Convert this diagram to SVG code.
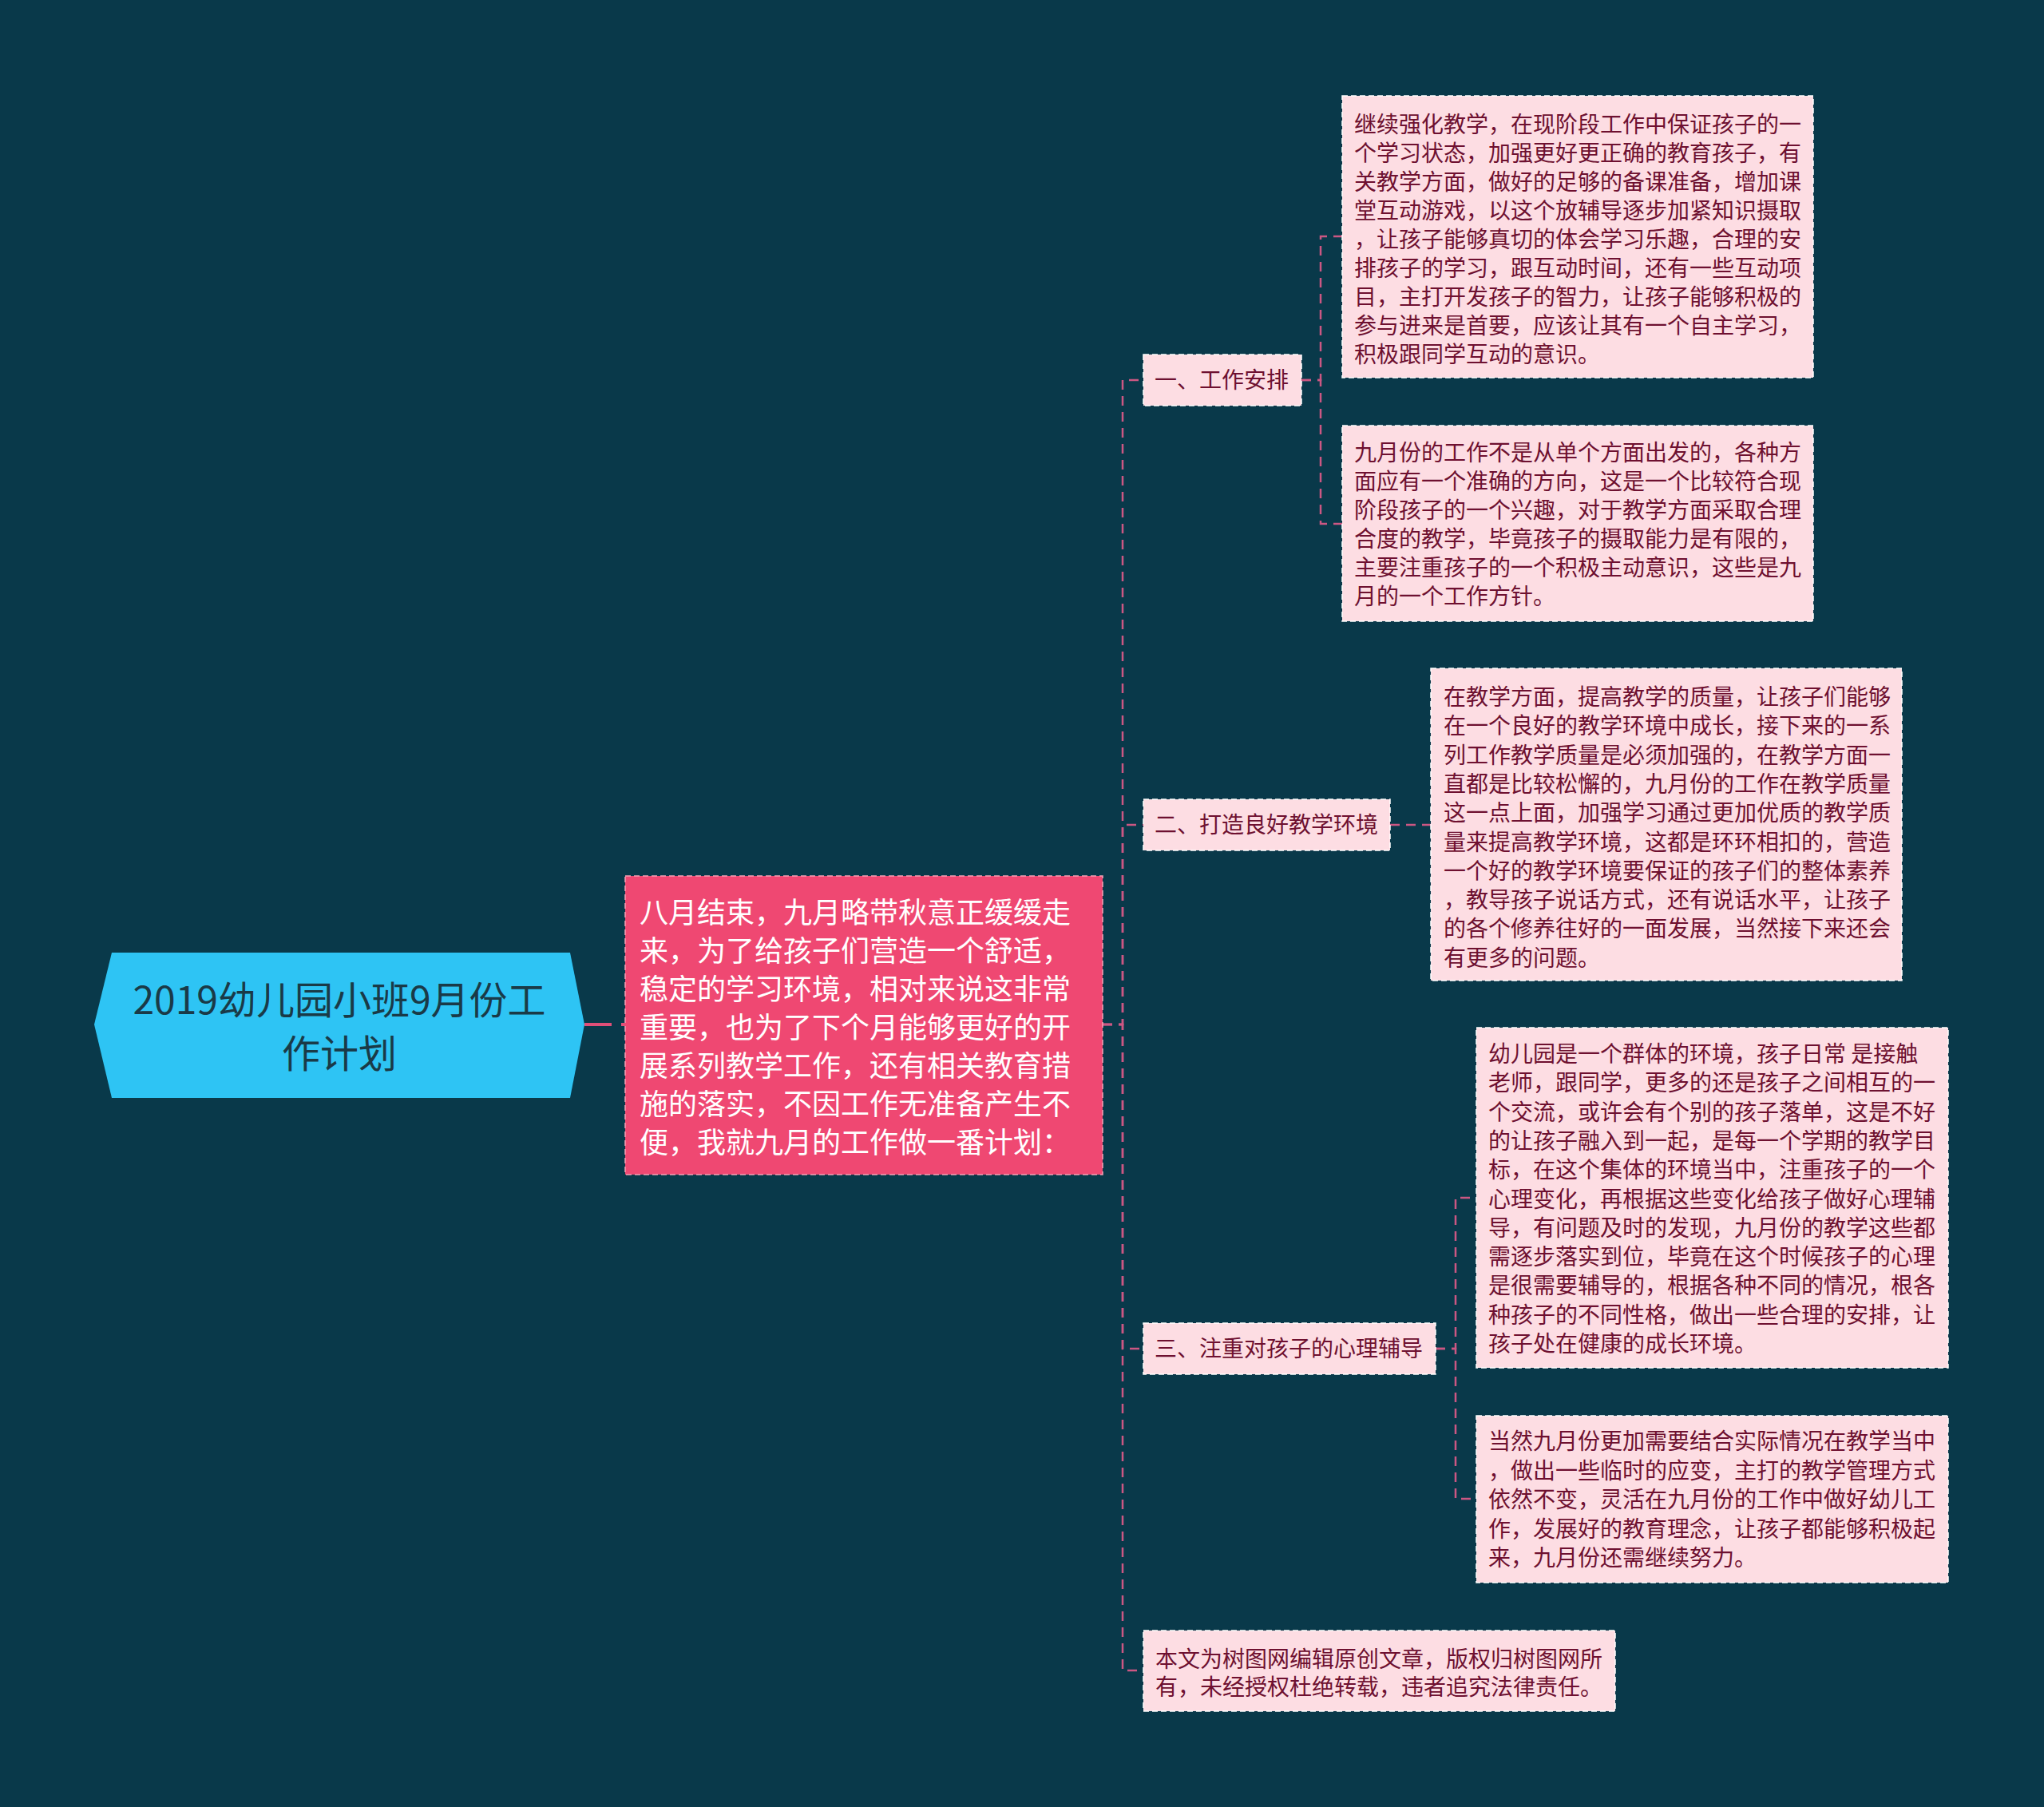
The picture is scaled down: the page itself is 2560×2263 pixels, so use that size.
<svg xmlns="http://www.w3.org/2000/svg" width="2560" height="2263" viewBox="0 0 2560 2263">
<style>
.bg{fill:#09394a}
.edge{fill:none;stroke:#cc5783;stroke-width:2.5;stroke-dasharray:12 8}
.edge0{fill:none;stroke:#e04f78;stroke-width:4;stroke-dasharray:34 12}
.box{fill:#fddde3;stroke:#ffffff;stroke-width:1.5;stroke-dasharray:7 4}
.t{font-family:"Noto Sans CJK SC","Noto Sans",sans-serif;font-size:28px;fill:#6e1030}
.tm{font-family:"Noto Sans CJK SC","Noto Sans",sans-serif;font-size:36px;fill:#ffffff}
.tr{font-family:"Noto Sans CJK SC","Noto Sans",sans-serif;font-size:48px;fill:#1a3a47;text-anchor:middle}
</style>
<rect class="bg" x="0" y="0" width="2560" height="2263"/>
<g id="connectors">
<path class="edge0" d="M732,1283 H783"/>
<path class="edge" d="M1381,1283 H1406 V476 H1432"/>
<path class="edge" d="M1381,1283 H1406 V1033 H1432"/>
<path class="edge" d="M1381,1283 H1406 V1689 H1432"/>
<path class="edge" d="M1381,1283 H1406 V2092 H1432"/>
<path class="edge" d="M1630,476 H1654 V296 H1681"/>
<path class="edge" d="M1630,476 H1654 V656 H1681"/>
<path class="edge" d="M1741,1033 H1792"/>
<path class="edge" d="M1798,1689 H1823 V1500 H1849"/>
<path class="edge" d="M1798,1689 H1823 V1877 H1849"/>
</g>
<g id="root">
<polygon points="140,1193 714,1193 732,1283 714,1375 140,1375 118,1283" fill="#2ec4f4"/>
<text class="tr" x="425" y="1270">2019幼儿园小班9月份工</text>
<text class="tr" x="425" y="1337">作计划</text>
</g>
<g id="main">
<rect x="783" y="1097" width="598" height="374" fill="#ef4872" stroke="#f7a0b5" stroke-width="1.5" stroke-dasharray="7 4"/>
<text class="tm"><tspan x="801" y="1156">八月结束，九月略带秋意正缓缓走</tspan><tspan x="801" y="1204">来，为了给孩子们营造一个舒适，</tspan><tspan x="801" y="1252">稳定的学习环境，相对来说这非常</tspan><tspan x="801" y="1300">重要，也为了下个月能够更好的开</tspan><tspan x="801" y="1348">展系列教学工作，还有相关教育措</tspan><tspan x="801" y="1396">施的落实，不因工作无准备产生不</tspan><tspan x="801" y="1444">便，我就九月的工作做一番计划：</tspan></text>
</g>
<g id="n1">
<rect class="box" x="1432" y="444" width="198" height="64"/>
<text class="t" x="1446" y="486">一、工作安排</text>
</g>
<g id="n1a">
<rect class="box" x="1681" y="120" width="590" height="353"/>
<text class="t"><tspan x="1696" y="166">继续强化教学，在现阶段工作中保证孩子的一</tspan><tspan x="1696" y="202">个学习状态，加强更好更正确的教育孩子，有</tspan><tspan x="1696" y="238">关教学方面，做好的足够的备课准备，增加课</tspan><tspan x="1696" y="274">堂互动游戏，以这个放辅导逐步加紧知识摄取</tspan><tspan x="1696" y="310">，让孩子能够真切的体会学习乐趣，合理的安</tspan><tspan x="1696" y="346">排孩子的学习，跟互动时间，还有一些互动项</tspan><tspan x="1696" y="382">目，主打开发孩子的智力，让孩子能够积极的</tspan><tspan x="1696" y="418">参与进来是首要，应该让其有一个自主学习，</tspan><tspan x="1696" y="454">积极跟同学互动的意识。</tspan></text>
</g>
<g id="n1b">
<rect class="box" x="1681" y="533" width="590" height="245"/>
<text class="t"><tspan x="1696" y="577">九月份的工作不是从单个方面出发的，各种方</tspan><tspan x="1696" y="613">面应有一个准确的方向，这是一个比较符合现</tspan><tspan x="1696" y="649">阶段孩子的一个兴趣，对于教学方面采取合理</tspan><tspan x="1696" y="685">合度的教学，毕竟孩子的摄取能力是有限的，</tspan><tspan x="1696" y="721">主要注重孩子的一个积极主动意识，这些是九</tspan><tspan x="1696" y="757">月的一个工作方针。</tspan></text>
</g>
<g id="n2">
<rect class="box" x="1432" y="1001" width="309" height="64"/>
<text class="t" x="1446" y="1043">二、打造良好教学环境</text>
</g>
<g id="n2a">
<rect class="box" x="1792" y="837" width="590" height="391"/>
<text class="t"><tspan x="1808" y="883">在教学方面，提高教学的质量，让孩子们能够</tspan><tspan x="1808" y="919.3">在一个良好的教学环境中成长，接下来的一系</tspan><tspan x="1808" y="955.6">列工作教学质量是必须加强的，在教学方面一</tspan><tspan x="1808" y="991.9">直都是比较松懈的，九月份的工作在教学质量</tspan><tspan x="1808" y="1028.2">这一点上面，加强学习通过更加优质的教学质</tspan><tspan x="1808" y="1064.5">量来提高教学环境，这都是环环相扣的，营造</tspan><tspan x="1808" y="1100.8">一个好的教学环境要保证的孩子们的整体素养</tspan><tspan x="1808" y="1137.1">，教导孩子说话方式，还有说话水平，让孩子</tspan><tspan x="1808" y="1173.4">的各个修养往好的一面发展，当然接下来还会</tspan><tspan x="1808" y="1209.7">有更多的问题。</tspan></text>
</g>
<g id="n3">
<rect class="box" x="1432" y="1657" width="366" height="64"/>
<text class="t" x="1446" y="1699">三、注重对孩子的心理辅导</text>
</g>
<g id="n3a">
<rect class="box" x="1849" y="1287" width="591" height="426"/>
<text class="t"><tspan x="1864" y="1330">幼儿园是一个群体的环境，孩子日常 是接触</tspan><tspan x="1864" y="1366.3">老师，跟同学，更多的还是孩子之间相互的一</tspan><tspan x="1864" y="1402.6">个交流，或许会有个别的孩子落单，这是不好</tspan><tspan x="1864" y="1438.9">的让孩子融入到一起，是每一个学期的教学目</tspan><tspan x="1864" y="1475.2">标，在这个集体的环境当中，注重孩子的一个</tspan><tspan x="1864" y="1511.5">心理变化，再根据这些变化给孩子做好心理辅</tspan><tspan x="1864" y="1547.8">导，有问题及时的发现，九月份的教学这些都</tspan><tspan x="1864" y="1584.1">需逐步落实到位，毕竟在这个时候孩子的心理</tspan><tspan x="1864" y="1620.4">是很需要辅导的，根据各种不同的情况，根各</tspan><tspan x="1864" y="1656.7">种孩子的不同性格，做出一些合理的安排，让</tspan><tspan x="1864" y="1693">孩子处在健康的成长环境。</tspan></text>
</g>
<g id="n3b">
<rect class="box" x="1849" y="1773" width="591" height="209"/>
<text class="t"><tspan x="1864" y="1815">当然九月份更加需要结合实际情况在教学当中</tspan><tspan x="1864" y="1851.5">，做出一些临时的应变，主打的教学管理方式</tspan><tspan x="1864" y="1888">依然不变，灵活在九月份的工作中做好幼儿工</tspan><tspan x="1864" y="1924.5">作，发展好的教育理念，让孩子都能够积极起</tspan><tspan x="1864" y="1961">来，九月份还需继续努力。</tspan></text>
</g>
<g id="n4">
<rect class="box" x="1432" y="2042" width="591" height="101"/>
<text class="t"><tspan x="1447" y="2088">本文为树图网编辑原创文章，版权归树图网所</tspan><tspan x="1447" y="2123">有，未经授权杜绝转载，违者追究法律责任。</tspan></text>
</g>
</svg>
